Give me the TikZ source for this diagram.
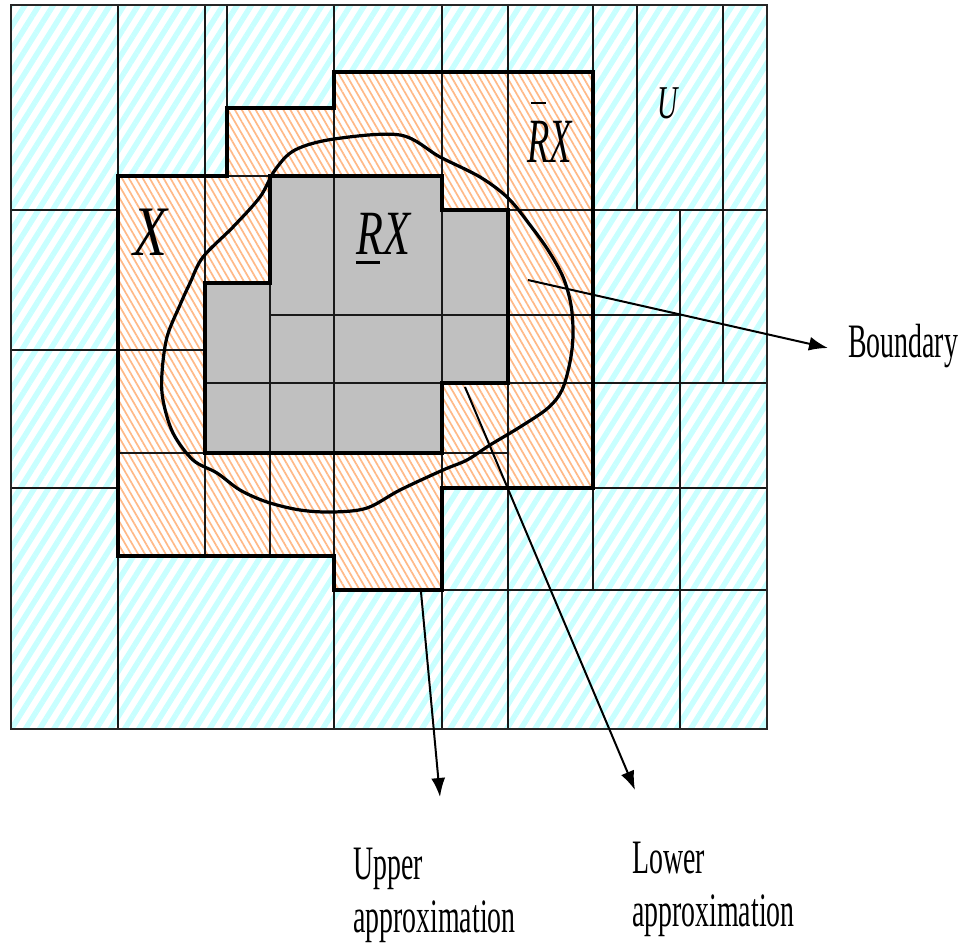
\documentclass[tikz,border=0pt]{standalone}
\usepackage{fontspec}
\usepackage{graphicx}
\setmainfont{Liberation Serif}
\newfontfamily\labfont[FakeStretch=0.58]{Liberation Serif}
\usetikzlibrary{patterns.meta,arrows.meta}
\definecolor{cyanS}{RGB}{200,255,255}
\definecolor{orangeS}{RGB}{255,185,135}
\definecolor{grayL}{RGB}{192,192,192}
\begin{document}
\begin{tikzpicture}[x=1pt,y=-1pt,
  gridline/.style={line width=1.7pt, black!90, line cap=rect},
  outline/.style={line width=4pt, black, line join=miter, line cap=rect},
  frameline/.style={line width=2.2pt, black!85},
  setcurve/.style={line width=3.2pt, black},
  pointer/.style={line width=2pt, black, -{Latex[length=19pt,width=14pt]}},
  lab/.style={inner sep=0pt, font=\labfont\fontsize{48}{53}\selectfont, align=left},
  sym/.style={inner sep=0pt, font=\fontsize{#1}{#1}\selectfont\itshape},
]
\useasboundingbox (0,0) rectangle (969,951);
\fill[white] (0,0) rectangle (969,951);

% universe: cyan hatch
\fill[pattern={Lines[angle=58,distance=12pt,line width=5.5pt]}, pattern color=cyanS]
  (11,5) rectangle (767,729);

% upper approximation: orange hatch
\def\upperpath{(118,176) -- (227,176) -- (227,108) -- (334,108) -- (334,72) -- (593,72) -- (593,488) -- (442,488) -- (442,590) -- (334,590) -- (334,556) -- (118,556) -- cycle}
\def\lowerpath{(270,176) -- (442,176) -- (442,210) -- (508,210) -- (508,383) -- (442,383) -- (442,453) -- (205,453) -- (205,283) -- (270,283) -- cycle}
\fill[white] \upperpath;
\fill[pattern={Lines[angle=-60,distance=6pt,line width=1.7pt]}, pattern color=orangeS] \upperpath;

% lower approximation: gray
\fill[grayL] \lowerpath;

% thin grid lines
\draw[gridline]
  (118,5) -- (118,176) (118,556) -- (118,729)
  (205,5) -- (205,283) (205,453) -- (205,556)
  (227,5) -- (227,108)
  (270,283) -- (270,556)
  (334,5) -- (334,72) (334,108) -- (334,556) (334,590) -- (334,729)
  (442,5) -- (442,176) (442,210) -- (442,383) (442,453) -- (442,488) (442,590) -- (442,729)
  (508,5) -- (508,210) (508,383) -- (508,729)
  (593,5) -- (593,72) (593,488) -- (593,590)
  (637,5) -- (637,210)
  (723,5) -- (723,383)
  (680,210) -- (680,729)
  (11,210) -- (118,210)
  (508,210) -- (767,210)
  (270,315) -- (680,315)
  (11,350) -- (205,350)
  (205,383) -- (442,383) (508,383) -- (767,383)
  (118,453) -- (205,453) (442,453) -- (508,453)
  (11,488) -- (118,488) (593,488) -- (767,488)
  (442,590) -- (767,590)
  (227,176) -- (270,176);

% frame
\draw[frameline] (11,5) rectangle (767,729);

% outlines
\draw[outline] \upperpath;
\draw[outline] \lowerpath;

% the set X
\draw[setcurve] plot[smooth cycle, tension=0.55] coordinates {
  (400,135) (440,157) (480,177) (508,198) (530,225) (548,250) (563,277)
  (571,305) (573,335) (570,362) (562,390) (548,408) (520,427) (490,445)
  (467,460) (443,470) (400,490) (367,508) (333,512) (300,510) (267,502)
  (240,490) (217,473) (193,460) (173,433) (163,400) (162,373) (167,337)
  (180,305) (190,283) (203,257) (233,227) (260,197) (275,170) (295,150)
  (334,139)};

% symbols
\node[sym=71] (xlab) at (150,232) {\scalebox{0.78}[1]{X}};
\node[sym=63, anchor=base west] (lowlab) at (356,254)
  {\scalebox{0.7}[1]{\rlap{\rule[-10pt]{34pt}{3pt}}RX}};
\node[sym=63, anchor=base west] (uplab) at (527,162)
  {\scalebox{0.58}[1]{\rlap{\hspace{6pt}\rule[58pt]{27pt}{2pt}}RX}};
\node[sym=47, anchor=base west] (ulab) at (657,118) {\scalebox{0.6}[1]{U}};

% arrows
\coordinate (bs) at (528,280);
\coordinate (be) at (828,348);
\coordinate (us) at (421,592);
\coordinate (ue) at (440,797);
\coordinate (ls) at (465,387);
\coordinate (le) at (635,790);
\draw[pointer] (bs) -- (be);
\draw[pointer] (us) -- (ue);
\draw[pointer] (ls) -- (le);

% labels
\node[lab, anchor=base west] (bnd) at (848,357) {Boundary};
\node[lab, anchor=north west] (upper) at (353,848) {Upper\\approximation};
\node[lab, anchor=north west] (lower) at (632,842) {Lower\\approximation};
\end{tikzpicture}
\end{document}
